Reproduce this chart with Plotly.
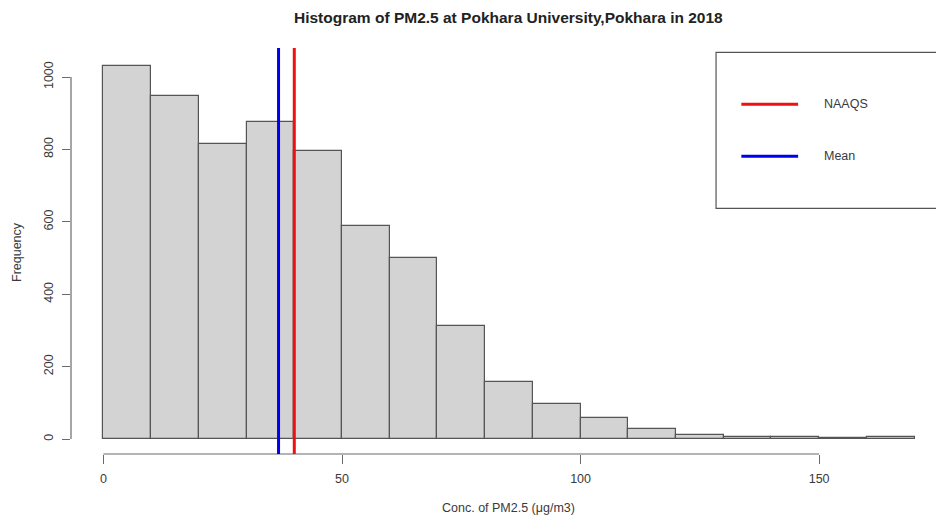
import plotly.graph_objects as go

bin_left = [0, 10, 20, 30, 40, 50, 60, 70, 80, 90, 100, 110, 120, 130, 140, 150, 160]
counts = [1030, 948, 815, 875, 795, 588, 500, 312, 157, 96, 57, 28, 12, 6, 6, 2, 5]
bin_width = 10
mean_val = 36.7
naaqs_val = 40
x_ticks = [0, 50, 100, 150]
y_ticks = [0, 200, 400, 600, 800, 1000]

title = "Histogram of PM2.5 at Pokhara University,Pokhara in 2018"
x_title = "Conc. of PM2.5 (μg/m3)"
y_title = "Frequency"

FONT = "Liberation Sans, Arial, sans-serif"
TXT = "#3a3a3a"
AX = "#6a6a6a"
FS = 12.5

fig = go.Figure()
fig.add_trace(go.Bar(
    x=[b + bin_width / 2 for b in bin_left],
    y=counts,
    width=bin_width,
    marker=dict(color="#d3d3d3", line=dict(color="#555555", width=1.2)),
    showlegend=False,
    hoverinfo="x+y",
))

shapes = []
# axis lines (R style)
shapes.append(dict(type="line", xref="x", yref="paper", x0=x_ticks[0], x1=x_ticks[-1], y0=0, y1=0,
                   line=dict(color=AX, width=1.2)))
shapes.append(dict(type="line", xref="paper", yref="y", x0=0, x1=0, y0=y_ticks[0], y1=y_ticks[-1],
                   line=dict(color=AX, width=1.2)))
# vertical reference lines
shapes.append(dict(type="line", xref="x", yref="paper", x0=mean_val, x1=mean_val, y0=0, y1=1.005,
                   line=dict(color="#0000ee", width=3)))
shapes.append(dict(type="line", xref="x", yref="paper", x0=naaqs_val, x1=naaqs_val, y0=0, y1=1.005,
                   line=dict(color="#ee1111", width=3)))
# legend box
shapes.append(dict(type="rect", xref="x", yref="y", x0=128.4, x1=185, y0=637, y1=1068,
                   line=dict(color="#555555", width=1.2), fillcolor="rgba(0,0,0,0)"))
shapes.append(dict(type="line", xref="x", yref="y", x0=133.7, x1=145.6, y0=925, y1=925,
                   line=dict(color="#ee1111", width=3)))
shapes.append(dict(type="line", xref="x", yref="y", x0=133.7, x1=145.6, y0=781, y1=781,
                   line=dict(color="#0000ee", width=3)))

annotations = [
    dict(text="NAAQS", xref="x", yref="y", x=150.6, y=925, xanchor="left", yanchor="middle",
         showarrow=False, font=dict(family=FONT, size=FS, color=TXT)),
    dict(text="Mean", xref="x", yref="y", x=150.6, y=781, xanchor="left", yanchor="middle",
         showarrow=False, font=dict(family=FONT, size=FS, color=TXT)),
    dict(text="<b>" + title + "</b>", xref="paper", yref="paper", x=0.506, y=1.0, yshift=33,
         xanchor="center", yanchor="middle", showarrow=False,
         font=dict(family=FONT, size=15.5, color="#222222")),
    dict(text=x_title, xref="paper", yref="paper", x=0.506, y=0, yshift=-54,
         xanchor="center", yanchor="middle", showarrow=False,
         font=dict(family=FONT, size=FS, color=TXT)),
    dict(text=y_title, xref="paper", yref="paper", x=0, xshift=-54, y=0.5, textangle=-90,
         xanchor="center", yanchor="middle", showarrow=False,
         font=dict(family=FONT, size=FS, color=TXT)),
]

fig.update_layout(
    width=936, height=518,
    margin=dict(l=71, r=0, t=50, b=64),
    paper_bgcolor="white", plot_bgcolor="white",
    bargap=0,
    shapes=shapes,
    annotations=annotations,
    showlegend=False,
    font=dict(family=FONT, size=FS, color=TXT),
    xaxis=dict(range=[-6.8, 174.5], showgrid=False, zeroline=False, showline=False,
               tickvals=x_ticks, ticks="outside", ticklen=9, tickcolor=AX, tickwidth=1.2,
               ticklabelstandoff=4,
               tickfont=dict(family=FONT, size=FS, color=TXT)),
    yaxis=dict(range=[-41.3, 1074.6], showgrid=False, zeroline=False, showline=False,
               tickvals=y_ticks, ticks="outside", ticklen=8, tickcolor=AX, tickwidth=1.2,
               ticklabelstandoff=4,
               tickangle=-90, tickfont=dict(family=FONT, size=FS, color=TXT)),
)

fig.write_html(
    "out.html",
    config={"displayModeBar": False},
    post_script="document.body.style.margin='0';document.body.style.overflow='hidden';",
)
